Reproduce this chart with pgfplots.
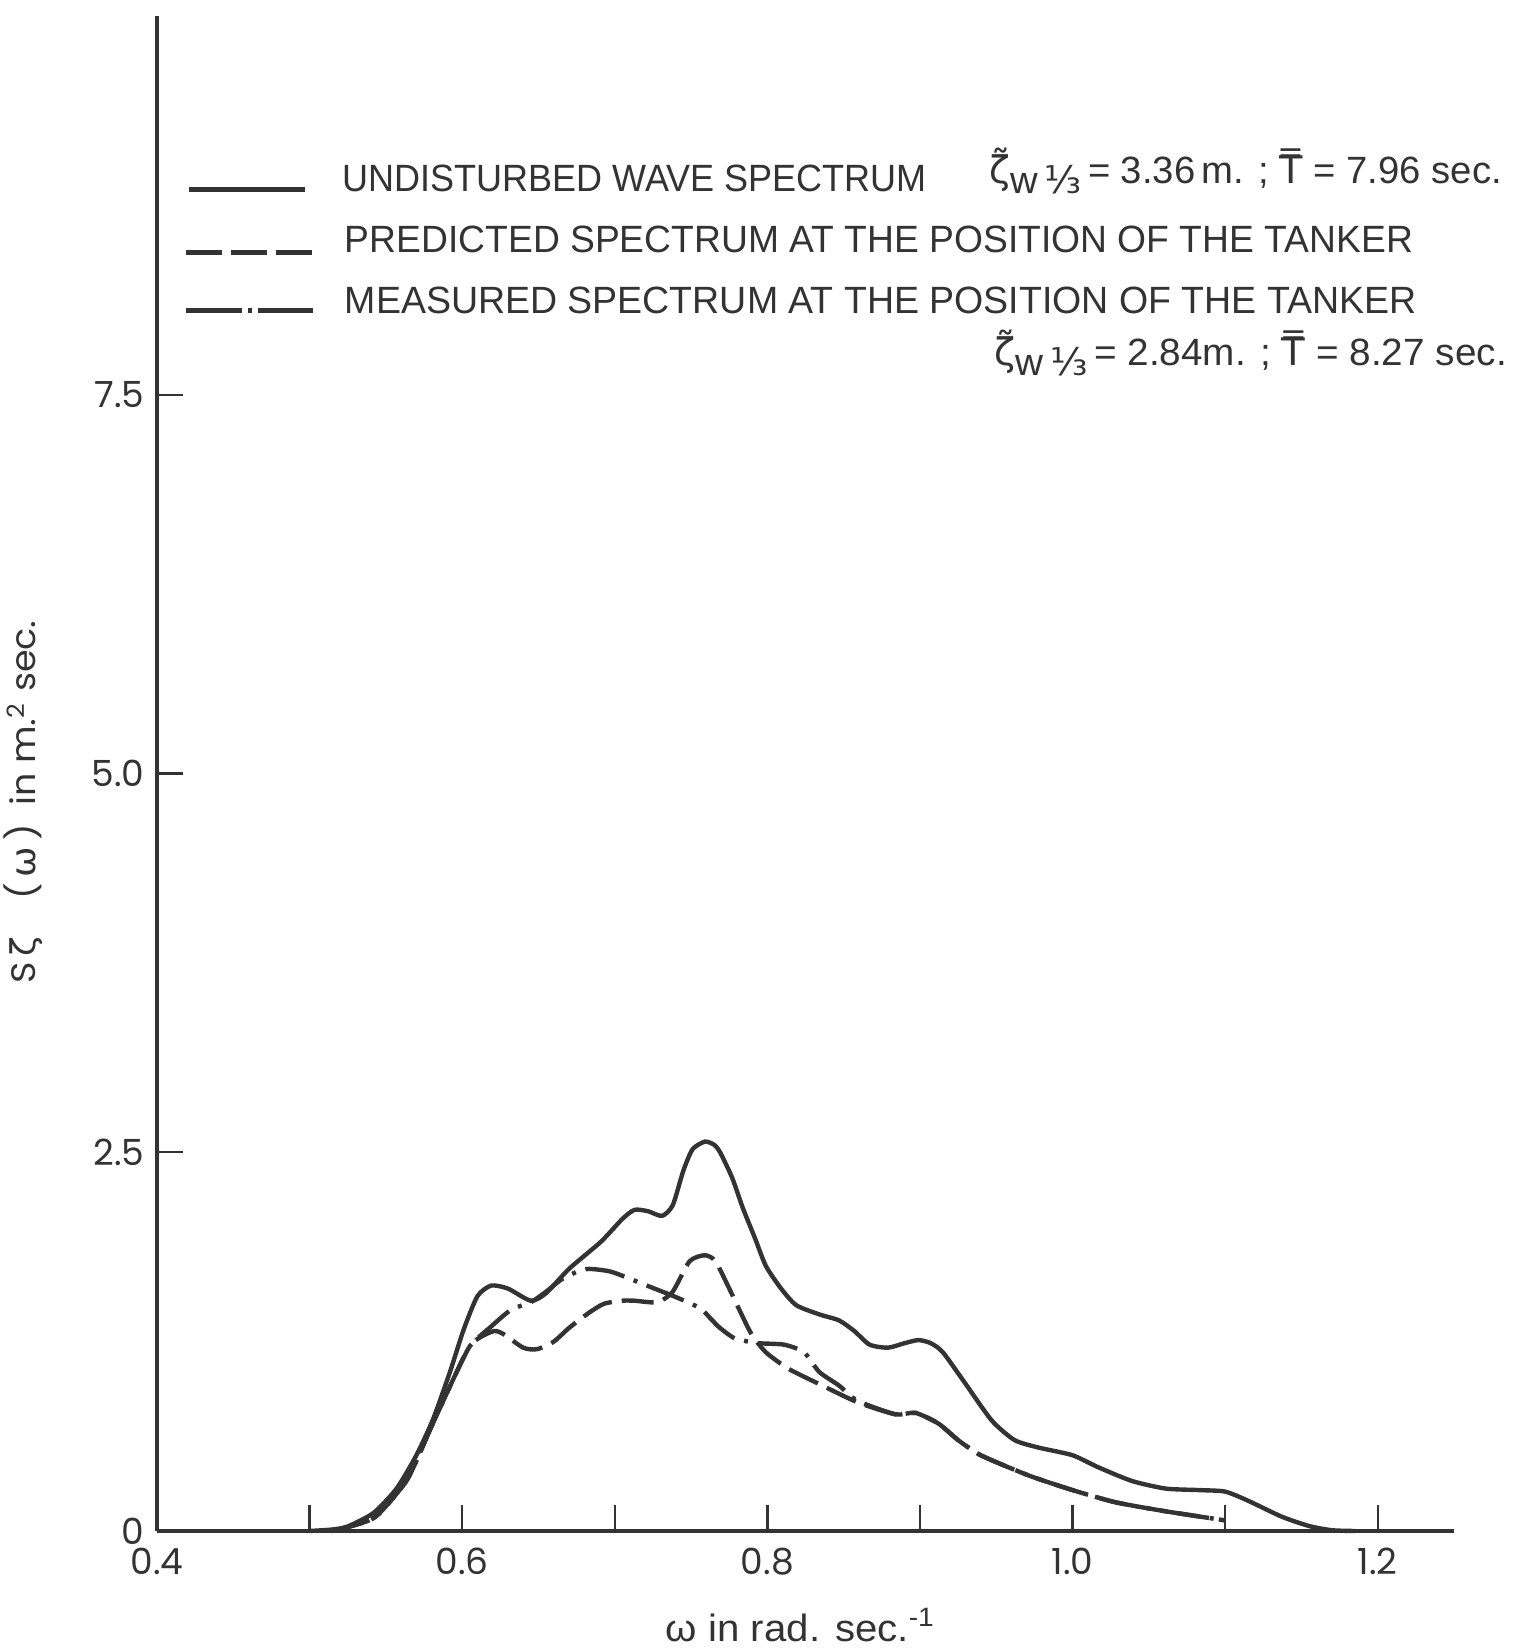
\documentclass[border=0pt]{standalone}
\usepackage{pgfplots}
\pgfplotsset{compat=1.18}
\usepackage{graphicx}
\usepackage{fontspec}
\setmainfont{Liberation Sans}
\newfontfamily\pop{Poppins}
\newfontfamily\dv{DejaVu Sans}
\definecolor{ink}{HTML}{333333}

\pgfplotstableread{
x y
0.500 0
0.515 0.01
0.525 0.03
0.542 0.12
0.557 0.28
0.570 0.50
0.581 0.74
0.592 1.05
0.601 1.33
0.610 1.55
0.619 1.62
0.630 1.60
0.645 1.52
0.655 1.57
0.670 1.73
0.691 1.91
0.705 2.06
0.713 2.12
0.722 2.11
0.731 2.08
0.738 2.15
0.745 2.38
0.751 2.52
0.759 2.57
0.765 2.55
0.769 2.50
0.777 2.33
0.784 2.13
0.792 1.93
0.799 1.75
0.809 1.60
0.819 1.49
0.834 1.43
0.847 1.39
0.857 1.32
0.867 1.23
0.879 1.21
0.890 1.24
0.899 1.26
0.907 1.24
0.915 1.18
0.930 0.97
0.947 0.73
0.962 0.60
0.978 0.55
1.000 0.50
1.017 0.42
1.039 0.33
1.061 0.28
1.083 0.27
1.100 0.26
1.115 0.20
1.137 0.095
1.155 0.033
1.170 0.005
1.185 0
}\undisturbed

\pgfplotstableread{
x y
0.514 0
0.530 0.04
0.544 0.10
0.564 0.34
0.579 0.67
0.595 1.02
0.605 1.22
0.612 1.28
0.621 1.32
0.627 1.30
0.640 1.21
0.649 1.20
0.660 1.25
0.670 1.34
0.683 1.44
0.693 1.50
0.705 1.52
0.713 1.52
0.728 1.51
0.738 1.58
0.749 1.78
0.759 1.82
0.766 1.78
0.776 1.58
0.789 1.31
0.799 1.18
0.814 1.07
0.834 0.97
0.859 0.85
0.884 0.77
0.897 0.78
0.912 0.71
0.925 0.60
0.938 0.51
0.951 0.45
0.973 0.36
1.000 0.27
1.028 0.19
1.061 0.13
1.100 0.07
}\predicted

\pgfplotstableread{
x y
0.514 0
0.530 0.04
0.544 0.10
0.564 0.34
0.579 0.67
0.595 1.02
0.605 1.22
0.619 1.35
0.632 1.46
0.645 1.51
0.655 1.58
0.665 1.66
0.675 1.71
0.683 1.73
0.698 1.71
0.721 1.62
0.741 1.54
0.756 1.47
0.763 1.40
0.769 1.34
0.779 1.27
0.794 1.24
0.811 1.23
0.824 1.18
0.834 1.05
0.847 0.96
0.859 0.86
0.884 0.77
0.897 0.78
0.912 0.71
0.925 0.60
0.938 0.51
0.951 0.45
0.973 0.36
1.000 0.27
1.028 0.19
1.061 0.13
1.100 0.07
}\measured

\begin{document}
\begin{tikzpicture}
\begin{axis}[
  at={(0pt,0pt)}, anchor=south west,
  scale only axis, width=324.25pt, height=378.75pt,
  xmin=0.4, xmax=1.25, ymin=0, ymax=10,
  axis lines=left, axis line style={-, line width=1.1pt, ink},
  tick align=inside, major tick length=6.6pt,
  tick style={line width=0.6pt, ink},
  xtick={0.4,0.5,0.6,0.7,0.8,0.9,1.0,1.1,1.2},
  xticklabels={0.4,,0.6,,0.8,,1.0,,1.2},
  ytick={0,2.5,5,7.5}, yticklabels={0,2.5,5.0,7.5},
  tick label style={font=\pop\fontsize{9}{10}\selectfont, text=ink},
  xticklabel style={anchor=north, inner sep=0pt, yshift=-4pt},
  yticklabel style={anchor=east, inner sep=0pt, xshift=-3pt},
  clip=false,
]
\addplot[ink, line width=1.1pt, smooth, tension=0.4] table {\undisturbed};
\addplot[ink, line width=1.1pt, smooth, tension=0.4, dash pattern=on 8pt off 2.5pt] table {\predicted};
\addplot[ink, line width=1.1pt, smooth, tension=0.4, dash pattern=on 10pt off 2.5pt on 1pt off 2.5pt] table {\measured};
\end{axis}

% legend
\draw[ink, line width=1.1pt] (8pt,335.4pt) -- (37pt,335.4pt);
\draw[ink, line width=1.1pt, dash pattern=on 9pt off 2.3pt] (7.25pt,319.6pt) -- (38.9pt,319.6pt);
\draw[ink, line width=1.1pt, dash pattern=on 14pt off 1.5pt on 1pt off 1.5pt] (7.25pt,305.1pt) -- (38.9pt,305.1pt);

\begin{scope}[every node/.style={anchor=base west, inner sep=0pt, text=ink, font=\fontsize{9.5}{11}\selectfont}]
\node at (46.25pt,334.9pt) {\resizebox{146pt}{\height}{UNDISTURBED WAVE SPECTRUM}};
\node at (208pt,336.75pt) {\resizebox{128pt}{\height}{{\dv ζ̃}\raisebox{-2.5pt}{w\,{\dv ⅓}}\,= 3.36\,m. ; {\dv T̿} = 7.96 sec.}};
\node at (46.75pt,319.6pt) {\resizebox{267pt}{\height}{PREDICTED SPECTRUM AT THE POSITION OF THE TANKER}};
\node at (46.75pt,304.4pt) {\resizebox{268pt}{\height}{MEASURED SPECTRUM AT THE POSITION OF THE TANKER}};
\node at (209.25pt,291.25pt) {\resizebox{128pt}{\height}{{\dv ζ̃}\raisebox{-2.5pt}{w\,{\dv ⅓}}\,= 2.84m. ; {\dv T̿} = 8.27 sec.}};
\end{scope}

% axis labels
\node[anchor=base, inner sep=0pt, text=ink, font=\fontsize{9.5}{11}\selectfont] at (161pt,-27.6pt)
  {\resizebox{67.5pt}{\height}{ω in rad. sec.\textsuperscript{-1}}};
\node[inner sep=0pt, rotate=90, text=ink, font=\pop\fontsize{8.5}{10}\selectfont] at (-33.5pt,182.25pt)
  {\resizebox{90.75pt}{\height}{S\,{\dv ζ}\quad(\,{\dv ω}\,)\enspace in m.\textsuperscript{2} sec.}};

\pgfresetboundingbox
\path[use as bounding box] (-39.25pt,-29.75pt) rectangle (338.75pt,382.75pt);
\end{tikzpicture}
\end{document}
